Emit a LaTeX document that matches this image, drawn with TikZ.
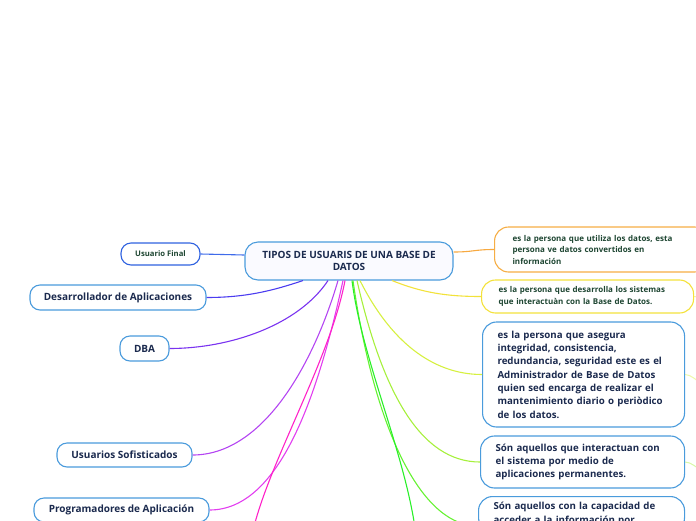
\documentclass[tikz,border=0pt]{standalone}
\usepackage{fontspec}
\setmainfont{Open Sans}
\usetikzlibrary{positioning,calc}
\definecolor{navy}{HTML}{1B2A4E}
\definecolor{leafgreen}{HTML}{1E4632}
\definecolor{boxblue}{HTML}{4A9BDC}
\definecolor{royal}{HTML}{2F62E0}
\definecolor{boxorange}{HTML}{F6AE45}
\definecolor{boxyellow}{HTML}{F4E23C}
% branch colours, round the wheel
\definecolor{brblue}{HTML}{3F6BEA}
\definecolor{brindigo}{HTML}{4B3CF0}
\definecolor{brviolet}{HTML}{7A33F0}
\definecolor{brpurple}{HTML}{B445F2}
\definecolor{brmagenta}{HTML}{E23EF0}
\definecolor{brpink}{HTML}{FF22C8}
\definecolor{brorange}{HTML}{F7A940}
\definecolor{bryellow}{HTML}{F2E23A}
\definecolor{brlemon}{HTML}{D6F040}
\definecolor{brlime}{HTML}{A6F03C}
\definecolor{brgrass}{HTML}{66F232}
\definecolor{brgreen}{HTML}{28F028}

\begin{document}
\begin{tikzpicture}[
    x=1pt, y=-1pt,
    topic/.style={draw=boxblue, fill=white, line width=1.1pt, rounded corners=10pt,
                  text=navy, font=\bfseries\fontsize{10}{12}\selectfont, inner sep=0pt},
    central/.style={topic, fill=blue!2, rounded corners=13pt, align=center,
                    minimum width=208pt, minimum height=38pt, font=\bfseries\fontsize{10}{12.4}\selectfont},
    leaf/.style={topic, minimum height=24pt},
    note/.style={topic, rounded corners=14pt, align=left, anchor=west,
                 inner xsep=15pt, font=\bfseries\fontsize{9.7}{13.3}\selectfont},
    small/.style={note, text=leafgreen, font=\bfseries\fontsize{8}{11.5}\selectfont},
    br/.style={line width=1.1pt},
    stub/.style={line width=1pt, opacity=.45},
]
\useasboundingbox (0,0) rectangle (696,520);

% Central topic.
\node[central] (ctr) at (349,261) {TIPOS DE USUARIS DE UNA BASE DE\\DATOS};

% Left side: the kinds of users.
\node[leaf, draw=royal, minimum width=79pt, minimum height=22pt, text=leafgreen,
      font=\bfseries\fontsize{7.7}{9}\selectfont] (uf) at (160.5,254) {Usuario Final};
\node[leaf, minimum width=176pt, minimum height=25pt] (dev)  at (118,297.5) {Desarrollador de Aplicaciones};
\node[leaf, minimum width=49pt, minimum height=25pt]  (dba)  at (144.5,348.5) {DBA};
\node[leaf, minimum width=135pt] (sof)  at (124.5,455) {Usuarios Sofisticados};
\node[leaf, minimum width=175pt] (prog) at (121.5,510) {Programadores de Aplicación};

% Right side: what each one does.
\node[small, draw=boxorange, minimum width=210pt, minimum height=45pt, text width=178pt, inner xsep=18pt] (util)
    at (494,249.5) {es la persona que utiliza los datos, esta\\persona ve datos convertidos en\\información};
\node[small, draw=boxyellow, minimum width=211pt, minimum height=33pt, text width=178pt, inner xsep=17pt] (desa)
    at (481,296.5) {es la persona que desarrolla los sistemas\\que interactuàn con la Base de Datos.};
\node[note, minimum width=202pt, minimum height=105pt, text width=172pt] (admin)
    at (482,374.5) {es la persona que asegura\\integridad, consistencia,\\redundancia, seguridad este es el\\Administrador de Base de Datos\\quien sed encarga de realizar el\\mantenimiento diario o periòdico\\de los datos.};
\node[note, minimum width=204pt, minimum height=52pt, text width=174pt] (inter)
    at (480,462) {Són aquellos que interactuan con\\el sistema por medio de\\aplicaciones permanentes.};
\node[note, anchor=north west, minimum width=206pt, text width=176pt, inner ysep=6pt] (acc)
    at (478,496) {Són aquellos con la capacidad de\\acceder a la información por};

% Free ends past the page edge.
\coordinate (pinkend)  at (252,535);
\coordinate (greenend) at (416,535);
\coordinate (desaend)  at (702,301);
\coordinate (adminend) at (702,384);
\coordinate (interend) at (702,471);

% Branches to the left.
\draw[br, brblue]    (uf.east) .. controls +(22,0) and +(-22,0) .. ($(ctr.west)+(0,-6)$);
\draw[br, brindigo]  ($(ctr.south)+(-46,0)$) .. controls +(-30,10) and +(40,0) .. (dev.east);
\draw[br, brviolet]  ($(ctr.south)+(-21,0)$) .. controls +(-30,45) and +(60,0) .. (dba.east);
\draw[br, brpurple]  ($(ctr.south)+(-11,0)$) .. controls +(-25,85) and +(70,0) .. (sof.east);
\draw[br, brmagenta] ($(ctr.south)+(-6,0)$) .. controls +(-25,115) and +(70,0) .. (prog.east);
\draw[br, brpink]    ($(ctr.south)+(-4,0)$) .. controls +(-15,80) and +(15,-70) .. (pinkend);

% Branches to the right.
\draw[br, brorange] ($(ctr.east)+(0,-9)$) .. controls +(20,0) and +(-20,0) .. (util.west);
\draw[br, bryellow] ($(ctr.south)+(43,0)$) .. controls +(30,12) and +(-35,0) .. (desa.west);
\draw[br, brlemon]  ($(ctr.south)+(11,0)$) .. controls +(30,60) and +(-50,0) .. (admin.west);
\draw[br, brlime]   ($(ctr.south)+(8,0)$) .. controls +(25,110) and +(-60,0) .. (inter.west);
\draw[br, brgrass]  ($(ctr.south)+(4,0)$) .. controls +(20,140) and +(-60,0) .. ($(acc.north west)+(0,30)$);
\draw[br, brgreen]  ($(ctr.south)+(3,0)$) .. controls +(10,80) and +(-10,-80) .. (greenend);

% Stubs towards children off the page.
\draw[stub, bryellow] (desa.east)  .. controls +(5,0) and +(-4,-2) .. (desaend);
\draw[stub, brlemon]  (admin.east) .. controls +(6,0) and +(-5,-3) .. (adminend);
\draw[stub, brlime]   (inter.east) .. controls +(6,0) and +(-5,-3) .. (interend);
\end{tikzpicture}
\end{document}
